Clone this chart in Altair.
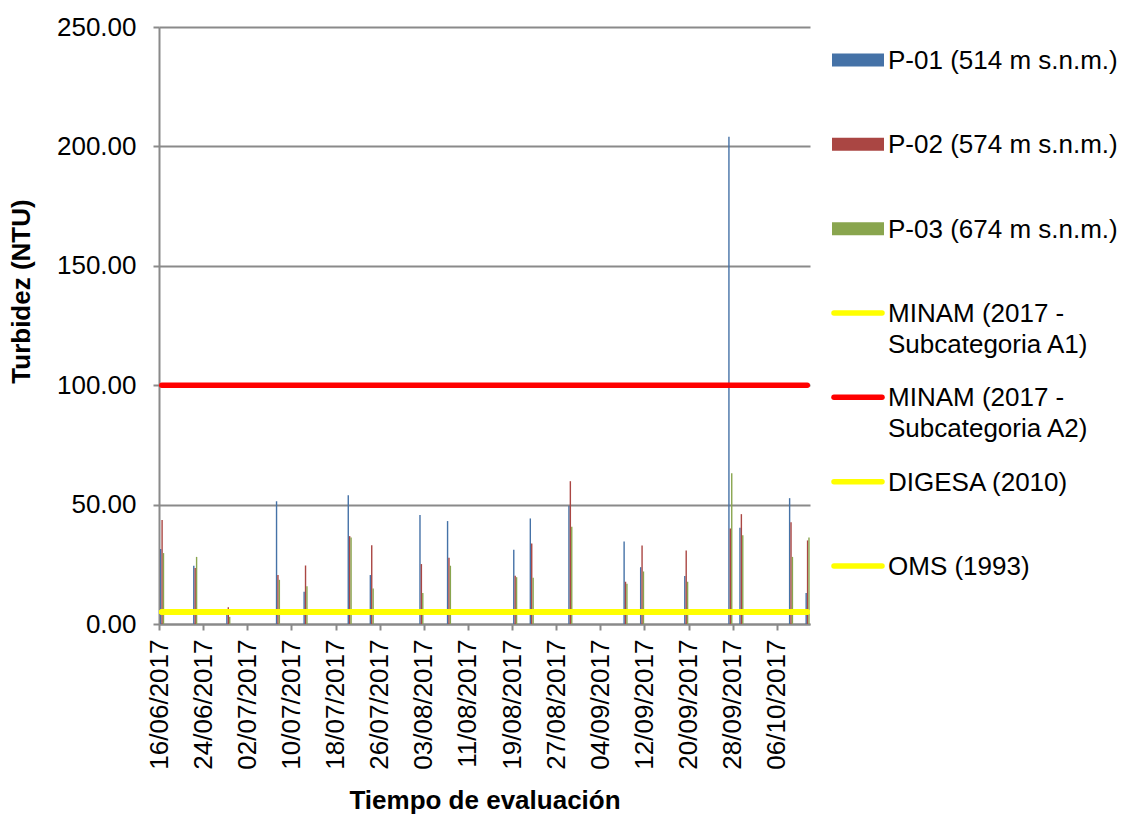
import altair as alt
import pandas as pd

# Sampling dates and turbidity readings (NTU) at the three points
fechas = ["2017-06-16", "2017-06-22", "2017-06-28", "2017-07-07", "2017-07-12",
          "2017-07-20", "2017-07-24", "2017-08-02", "2017-08-07", "2017-08-19",
          "2017-08-22", "2017-08-29", "2017-09-08", "2017-09-11", "2017-09-19",
          "2017-09-27", "2017-09-29", "2017-10-08", "2017-10-11"]
p01 = [31.4, 24.4, 4.0, 51.4, 13.5, 53.9, 20.5, 45.6, 43.1, 31.1,
       44.2, 49.5, 34.6, 23.8, 20.1, 204.0, 40.3, 52.7, 13.0]
p02 = [43.5, 23.4, 7.0, 20.5, 24.5, 36.8, 33.0, 25.1, 27.7, 20.2,
       33.7, 59.8, 17.7, 32.9, 30.8, 40.0, 46.0, 42.6, 35.0]
p03 = [29.7, 28.1, 3.0, 18.5, 15.8, 36.2, 14.9, 13.0, 24.4, 19.6,
       19.4, 40.7, 16.9, 22.0, 17.7, 63.1, 37.2, 28.1, 36.2]

series = ["P-01 (514 m s.n.m.)", "P-02 (574 m s.n.m.)", "P-03 (674 m s.n.m.)"]
colores_series = ["#4572A7", "#AA4643", "#89A54E"]

# Water-quality limits
normas = ["MINAM (2017 - Subcategoria A1)", "MINAM (2017 - Subcategoria A2)",
          "DIGESA (2010)", "OMS (1993)"]
etiquetas_normas = ["MINAM (2017 -\nSubcategoria A1)", "MINAM (2017 -\nSubcategoria A2)",
                    "DIGESA (2010)", "OMS (1993)"]
limites = [5, 100, 5, 5]
colores_normas = ["#FFFF00", "#FF0000", "#FFFF00", "#FFFF00"]

# Time axis
inicio, fin = "2017-06-16", "2017-10-12"
marcas_x = ["2017-06-16", "2017-06-24", "2017-07-02", "2017-07-10", "2017-07-18",
            "2017-07-26", "2017-08-03", "2017-08-11", "2017-08-19", "2017-08-27",
            "2017-09-04", "2017-09-12", "2017-09-20", "2017-09-28", "2017-10-06"]
marcas_y = [0, 50, 100, 150, 200, 250]

FUENTE = "Liberation Sans"
GRIS = "#8a8a8a"
HORA = 3600000


def ms(f):
    return int(pd.Timestamp(f).value // 10**6)


def dt(f):
    t = pd.Timestamp(f)
    return alt.DateTime(year=t.year, month=t.month, date=t.day, utc=True)


# Clustered thin columns inside each day slot
filas = []
for k, (nombre, valores) in enumerate(zip(series, [p01, p02, p03])):
    for f, v in zip(fechas, valores):
        t = ms(f)
        filas.append({"serie": nombre, "valor": v,
                      "x0": t + (4.3 + 6.1 * k) * HORA,
                      "x1": t + (4.3 + 6.1 * (k + 1)) * HORA})
df_barras = pd.DataFrame(filas)

filas_l = []
for nombre, lim in zip(normas, limites):
    for f in (fechas[0], fechas[-1]):
        filas_l.append({"serie": nombre, "valor": lim, "t": ms(f) + 12 * HORA})
df_lineas = pd.DataFrame(filas_l)

escala_color = alt.Scale(domain=series + normas, range=colores_series + colores_normas)
escala_x = alt.Scale(type="utc", domain=[dt(inicio), dt(fin)])
escala_y = alt.Scale(domain=[0, 250])

eje_x = alt.Axis(values=[dt(f) for f in marcas_x], format="%d/%m/%Y",
                 labelAngle=270, labelFontSize=26, labelColor="black", labelFont=FUENTE,
                 labelPadding=9, labelOverlap=False, labelFlush=False,
                 tickSize=6, tickColor=GRIS, tickWidth=2, domainColor=GRIS, domainWidth=2,
                 grid=False, title="Tiempo de evaluación", titleFont=FUENTE,
                 titleFontSize=26, titleFontWeight="bold", titleColor="black",
                 titleBaseline="alphabetic", titleY=184)
eje_y = alt.Axis(values=marcas_y, format=".2f", labelFontSize=26, labelColor="black",
                 labelFont=FUENTE, labelPadding=17, tickSize=6, tickColor=GRIS, tickWidth=2,
                 domainColor=GRIS, domainWidth=2, grid=True, gridColor=GRIS, gridWidth=2,
                 title="Turbidez (NTU)", titleFont=FUENTE, titleFontSize=26,
                 titleFontWeight="bold", titleColor="black", titleX=-125, titleY=264)

barras = alt.Chart(df_barras).mark_rect().encode(
    x=alt.X("x0:T", scale=escala_x, axis=eje_x),
    x2="x1:T",
    y=alt.Y("valor:Q", scale=escala_y, axis=eje_y),
    y2=alt.datum(0),
    color=alt.Color("serie:N", scale=escala_color, legend=None),
)

lineas = alt.Chart(df_lineas).mark_line(strokeWidth=5.5, strokeCap="round").encode(
    x=alt.X("t:T", scale=escala_x),
    y=alt.Y("valor:Q", scale=escala_y),
    color=alt.Color("serie:N", scale=escala_color, legend=None),
    detail="serie:N",
)

# Legend on the right, one row per series / limit
df_ley = pd.DataFrame({"serie": series + normas,
                       "etiqueta": series + etiquetas_normas,
                       "tipo": ["barra"] * 3 + ["linea"] * 4})
escala_pos = alt.Scale(type="point", domain=series + normas, range=[33, 539], padding=0)
base_ley = alt.Chart(df_ley).encode(y=alt.Y("serie:N", scale=escala_pos, axis=None))

sw_barras = base_ley.transform_filter("datum.tipo == 'barra'").mark_rule(strokeWidth=13).encode(
    x=alt.value(673), x2=alt.value(725),
    color=alt.Color("serie:N", scale=escala_color, legend=None),
)
sw_lineas = base_ley.transform_filter("datum.tipo == 'linea'").mark_rule(
    strokeWidth=5.5, strokeCap="round").encode(
    x=alt.value(675), x2=alt.value(723),
    color=alt.Color("serie:N", scale=escala_color, legend=None),
)
textos = base_ley.mark_text(align="left", baseline="alphabetic", dy=9, fontSize=26,
                            font=FUENTE, lineBreak="\n", lineHeight=31, color="black").encode(
    x=alt.value(729), text="etiqueta:N")

chart = alt.layer(
    alt.layer(barras, lineas),
    alt.layer(sw_barras, sw_lineas, textos),
).resolve_scale(y="independent").properties(
    width=651, height=597,
    autosize=alt.AutoSizeParams(type="none"),
    padding={"left": 159, "top": 27, "right": 316, "bottom": 210},
    background="white",
).configure(font=FUENTE).configure_view(stroke=None)

chart.save("out.html", embed_options={"renderer": "svg", "actions": False})
